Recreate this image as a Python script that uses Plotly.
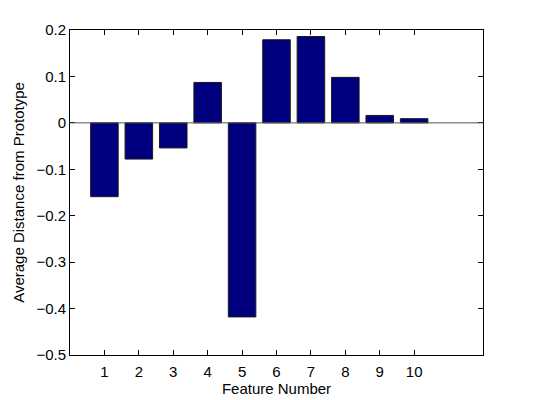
import plotly.graph_objects as go

features = [1, 2, 3, 4, 5, 6, 7, 8, 9, 10]
avg_dist = [-0.159, -0.078, -0.054, 0.087, -0.418, 0.179, 0.186, 0.098, 0.016, 0.009]
y_ticks = [0.2, 0.1, 0, -0.1, -0.2, -0.3, -0.4, -0.5]
y_labels = ["0.2", "0.1", "0", "\u22120.1", "\u22120.2", "\u22120.3", "\u22120.4", "\u22120.5"]

FONT = dict(family="Liberation Sans, Arial, sans-serif", size=15, color="black")

fig = go.Figure()
fig.add_trace(go.Bar(
    x=features, y=avg_dist, width=0.8,
    marker=dict(color="#00007F", line=dict(color="#1a1a1a", width=1)),
    showlegend=False,
))
fig.add_hline(y=0, line_color="#555555", line_width=1)

axis_common = dict(
    showgrid=False, zeroline=False, showline=True, linecolor="black",
    linewidth=1, mirror="ticks", ticks="inside", ticklen=5,
    tickcolor="black", tickfont=FONT, automargin=False,
)
# page body adds 8px offset, so margins are shifted to land the axes box at 70..483 x 30..355
fig.update_layout(
    width=533, height=400,
    margin=dict(l=62, r=58, t=22, b=53),
    plot_bgcolor="white", paper_bgcolor="white",
    font=FONT,
    xaxis=dict(range=[0, 12], tickvals=features, ticklabelstandoff=3,
               title=dict(text="Feature Number", standoff=0, font=FONT), **axis_common),
    yaxis=dict(range=[-0.5, 0.2], tickvals=y_ticks, ticktext=y_labels,
               title=dict(text="Average Distance from Prototype", standoff=8, font=FONT), **axis_common),
)
fig.write_html("out.html")
